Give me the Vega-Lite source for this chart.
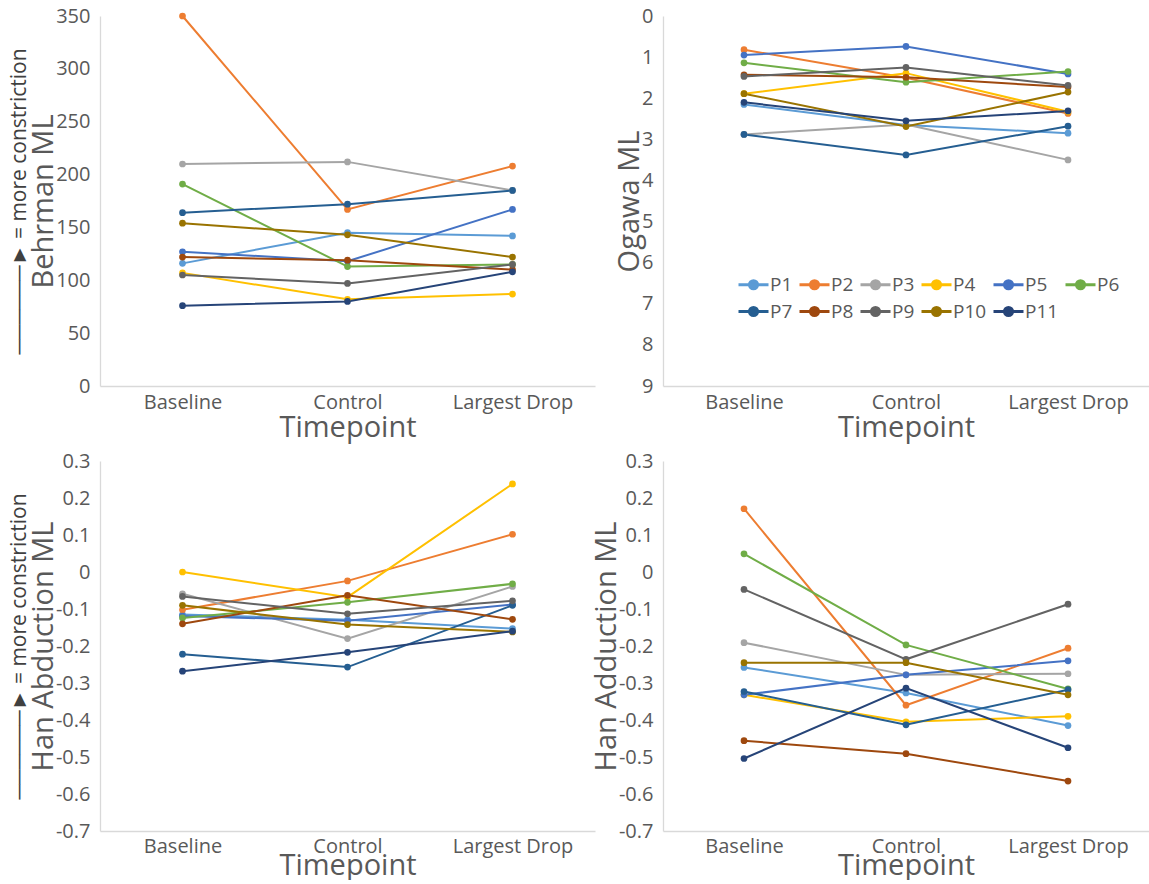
{
  "$schema": "https://vega.github.io/schema/vega-lite/v6.json",
  "background": "white",
  "padding": {"left": 8, "top": 6, "right": 0, "bottom": 0},
  "data": {"values": [
    {"m":"Behrman","p":"P1","t":"Baseline","v":116},{"m":"Behrman","p":"P1","t":"Control","v":145},{"m":"Behrman","p":"P1","t":"Largest Drop","v":142},
    {"m":"Behrman","p":"P2","t":"Baseline","v":350},{"m":"Behrman","p":"P2","t":"Control","v":167},{"m":"Behrman","p":"P2","t":"Largest Drop","v":208},
    {"m":"Behrman","p":"P3","t":"Baseline","v":210},{"m":"Behrman","p":"P3","t":"Control","v":212},{"m":"Behrman","p":"P3","t":"Largest Drop","v":185},
    {"m":"Behrman","p":"P4","t":"Baseline","v":107},{"m":"Behrman","p":"P4","t":"Control","v":82},{"m":"Behrman","p":"P4","t":"Largest Drop","v":87},
    {"m":"Behrman","p":"P5","t":"Baseline","v":127},{"m":"Behrman","p":"P5","t":"Control","v":118},{"m":"Behrman","p":"P5","t":"Largest Drop","v":167},
    {"m":"Behrman","p":"P6","t":"Baseline","v":191},{"m":"Behrman","p":"P6","t":"Control","v":113},{"m":"Behrman","p":"P6","t":"Largest Drop","v":115},
    {"m":"Behrman","p":"P7","t":"Baseline","v":164},{"m":"Behrman","p":"P7","t":"Control","v":172},{"m":"Behrman","p":"P7","t":"Largest Drop","v":185},
    {"m":"Behrman","p":"P8","t":"Baseline","v":122},{"m":"Behrman","p":"P8","t":"Control","v":119},{"m":"Behrman","p":"P8","t":"Largest Drop","v":110},
    {"m":"Behrman","p":"P9","t":"Baseline","v":105},{"m":"Behrman","p":"P9","t":"Control","v":97},{"m":"Behrman","p":"P9","t":"Largest Drop","v":115},
    {"m":"Behrman","p":"P10","t":"Baseline","v":154},{"m":"Behrman","p":"P10","t":"Control","v":143},{"m":"Behrman","p":"P10","t":"Largest Drop","v":122},
    {"m":"Behrman","p":"P11","t":"Baseline","v":76},{"m":"Behrman","p":"P11","t":"Control","v":80},{"m":"Behrman","p":"P11","t":"Largest Drop","v":108},

    {"m":"Ogawa","p":"P1","t":"Baseline","v":2.15},{"m":"Ogawa","p":"P1","t":"Control","v":2.65},{"m":"Ogawa","p":"P1","t":"Largest Drop","v":2.85},
    {"m":"Ogawa","p":"P2","t":"Baseline","v":0.82},{"m":"Ogawa","p":"P2","t":"Control","v":1.5},{"m":"Ogawa","p":"P2","t":"Largest Drop","v":2.37},
    {"m":"Ogawa","p":"P3","t":"Baseline","v":2.88},{"m":"Ogawa","p":"P3","t":"Control","v":2.64},{"m":"Ogawa","p":"P3","t":"Largest Drop","v":3.5},
    {"m":"Ogawa","p":"P4","t":"Baseline","v":1.89},{"m":"Ogawa","p":"P4","t":"Control","v":1.39},{"m":"Ogawa","p":"P4","t":"Largest Drop","v":2.33},
    {"m":"Ogawa","p":"P5","t":"Baseline","v":0.95},{"m":"Ogawa","p":"P5","t":"Control","v":0.74},{"m":"Ogawa","p":"P5","t":"Largest Drop","v":1.41},
    {"m":"Ogawa","p":"P6","t":"Baseline","v":1.14},{"m":"Ogawa","p":"P6","t":"Control","v":1.61},{"m":"Ogawa","p":"P6","t":"Largest Drop","v":1.35},
    {"m":"Ogawa","p":"P7","t":"Baseline","v":2.88},{"m":"Ogawa","p":"P7","t":"Control","v":3.38},{"m":"Ogawa","p":"P7","t":"Largest Drop","v":2.68},
    {"m":"Ogawa","p":"P8","t":"Baseline","v":1.43},{"m":"Ogawa","p":"P8","t":"Control","v":1.49},{"m":"Ogawa","p":"P8","t":"Largest Drop","v":1.73},
    {"m":"Ogawa","p":"P9","t":"Baseline","v":1.47},{"m":"Ogawa","p":"P9","t":"Control","v":1.25},{"m":"Ogawa","p":"P9","t":"Largest Drop","v":1.69},
    {"m":"Ogawa","p":"P10","t":"Baseline","v":1.89},{"m":"Ogawa","p":"P10","t":"Control","v":2.69},{"m":"Ogawa","p":"P10","t":"Largest Drop","v":1.85},
    {"m":"Ogawa","p":"P11","t":"Baseline","v":2.1},{"m":"Ogawa","p":"P11","t":"Control","v":2.55},{"m":"Ogawa","p":"P11","t":"Largest Drop","v":2.31},

    {"m":"Abd","p":"P1","t":"Baseline","v":-0.115},{"m":"Abd","p":"P1","t":"Control","v":-0.129},{"m":"Abd","p":"P1","t":"Largest Drop","v":-0.153},
    {"m":"Abd","p":"P2","t":"Baseline","v":-0.102},{"m":"Abd","p":"P2","t":"Control","v":-0.024},{"m":"Abd","p":"P2","t":"Largest Drop","v":0.102},
    {"m":"Abd","p":"P3","t":"Baseline","v":-0.059},{"m":"Abd","p":"P3","t":"Control","v":-0.18},{"m":"Abd","p":"P3","t":"Largest Drop","v":-0.039},
    {"m":"Abd","p":"P4","t":"Baseline","v":0.0},{"m":"Abd","p":"P4","t":"Control","v":-0.068},{"m":"Abd","p":"P4","t":"Largest Drop","v":0.238},
    {"m":"Abd","p":"P5","t":"Baseline","v":-0.119},{"m":"Abd","p":"P5","t":"Control","v":-0.132},{"m":"Abd","p":"P5","t":"Largest Drop","v":-0.088},
    {"m":"Abd","p":"P6","t":"Baseline","v":-0.124},{"m":"Abd","p":"P6","t":"Control","v":-0.082},{"m":"Abd","p":"P6","t":"Largest Drop","v":-0.032},
    {"m":"Abd","p":"P7","t":"Baseline","v":-0.222},{"m":"Abd","p":"P7","t":"Control","v":-0.257},{"m":"Abd","p":"P7","t":"Largest Drop","v":-0.09},
    {"m":"Abd","p":"P8","t":"Baseline","v":-0.14},{"m":"Abd","p":"P8","t":"Control","v":-0.063},{"m":"Abd","p":"P8","t":"Largest Drop","v":-0.128},
    {"m":"Abd","p":"P9","t":"Baseline","v":-0.066},{"m":"Abd","p":"P9","t":"Control","v":-0.113},{"m":"Abd","p":"P9","t":"Largest Drop","v":-0.078},
    {"m":"Abd","p":"P10","t":"Baseline","v":-0.09},{"m":"Abd","p":"P10","t":"Control","v":-0.142},{"m":"Abd","p":"P10","t":"Largest Drop","v":-0.162},
    {"m":"Abd","p":"P11","t":"Baseline","v":-0.268},{"m":"Abd","p":"P11","t":"Control","v":-0.217},{"m":"Abd","p":"P11","t":"Largest Drop","v":-0.16},

    {"m":"Add","p":"P1","t":"Baseline","v":-0.258},{"m":"Add","p":"P1","t":"Control","v":-0.327},{"m":"Add","p":"P1","t":"Largest Drop","v":-0.415},
    {"m":"Add","p":"P2","t":"Baseline","v":0.171},{"m":"Add","p":"P2","t":"Control","v":-0.36},{"m":"Add","p":"P2","t":"Largest Drop","v":-0.206},
    {"m":"Add","p":"P3","t":"Baseline","v":-0.191},{"m":"Add","p":"P3","t":"Control","v":-0.278},{"m":"Add","p":"P3","t":"Largest Drop","v":-0.275},
    {"m":"Add","p":"P4","t":"Baseline","v":-0.332},{"m":"Add","p":"P4","t":"Control","v":-0.405},{"m":"Add","p":"P4","t":"Largest Drop","v":-0.39},
    {"m":"Add","p":"P5","t":"Baseline","v":-0.332},{"m":"Add","p":"P5","t":"Control","v":-0.278},{"m":"Add","p":"P5","t":"Largest Drop","v":-0.24},
    {"m":"Add","p":"P6","t":"Baseline","v":0.049},{"m":"Add","p":"P6","t":"Control","v":-0.197},{"m":"Add","p":"P6","t":"Largest Drop","v":-0.316},
    {"m":"Add","p":"P7","t":"Baseline","v":-0.323},{"m":"Add","p":"P7","t":"Control","v":-0.413},{"m":"Add","p":"P7","t":"Largest Drop","v":-0.318},
    {"m":"Add","p":"P8","t":"Baseline","v":-0.456},{"m":"Add","p":"P8","t":"Control","v":-0.491},{"m":"Add","p":"P8","t":"Largest Drop","v":-0.565},
    {"m":"Add","p":"P9","t":"Baseline","v":-0.047},{"m":"Add","p":"P9","t":"Control","v":-0.236},{"m":"Add","p":"P9","t":"Largest Drop","v":-0.087},
    {"m":"Add","p":"P10","t":"Baseline","v":-0.245},{"m":"Add","p":"P10","t":"Control","v":-0.245},{"m":"Add","p":"P10","t":"Largest Drop","v":-0.332},
    {"m":"Add","p":"P11","t":"Baseline","v":-0.504},{"m":"Add","p":"P11","t":"Control","v":-0.314},{"m":"Add","p":"P11","t":"Largest Drop","v":-0.475}
  ]},
  "columns": 2,
  "bounds": "flush",
  "spacing": {"row": 75, "column": 68},
  "resolve": {"scale": {"color": "independent", "y": "independent", "x": "independent"}},
  "concat": [
    {
      "width": 495, "height": 370,
      "transform": [{"filter": "datum.m === 'Behrman'"}],
      "layer": [
        {
          "mark": {"type": "line", "strokeWidth": 2, "point": {"filled": true, "size": 45}},
          "encoding": {
            "x": {"field": "t", "type": "nominal", "sort": ["Baseline", "Control", "Largest Drop"], "scale": {"padding": 0.5}, "axis": {"title": "Timepoint", "labelAngle": 0, "titlePadding": 1}},
            "y": {"field": "v", "type": "quantitative", "scale": {"domain": [0, 350]}, "axis": {"title": "Behrman ML", "values": [0, 50, 100, 150, 200, 250, 300, 350]}},
            "color": {"field": "p", "type": "nominal", "scale": {"domain": ["P1","P2","P3","P4","P5","P6","P7","P8","P9","P10","P11"], "range": ["#5B9BD5","#ED7D31","#A5A5A5","#FFC000","#4472C4","#70AD47","#255E91","#9E480E","#636363","#997300","#264478"]}, "legend": null}
          }
        },
        {
          "mark": {"type": "point", "opacity": 0},
          "encoding": {
            "x": {"field": "t", "type": "nominal", "sort": ["Baseline", "Control", "Largest Drop"], "scale": {"padding": 0.5}},
            "y": {"field": "v", "type": "quantitative", "scale": {"domain": [0, 350]}, "axis": {"orient": "left", "title": "──────►  = more constriction", "titleColor": "#404040", "labels": false, "ticks": false, "domain": false, "titleFontSize": 21, "titlePadding": 71}}
          }
        }
      ],
      "resolve": {"axis": {"y": "independent"}}
    },
    {
      "width": 486, "height": 370,
      "transform": [{"filter": "datum.m === 'Ogawa'"}],
      "mark": {"type": "line", "strokeWidth": 2, "point": {"filled": true, "size": 45}},
      "encoding": {
        "x": {"field": "t", "type": "nominal", "sort": ["Baseline", "Control", "Largest Drop"], "scale": {"padding": 0.5}, "axis": {"title": "Timepoint", "labelAngle": 0, "titlePadding": 1}},
        "y": {"field": "v", "type": "quantitative", "scale": {"domain": [0, 9], "reverse": true}, "axis": {"title": "Ogawa ML", "values": [0,1,2,3,4,5,6,7,8,9]}},
        "color": {"field": "p", "type": "nominal", "scale": {"domain": ["P1","P2","P3","P4","P5","P6","P7","P8","P9","P10","P11"], "range": ["#5B9BD5","#ED7D31","#A5A5A5","#FFC000","#4472C4","#70AD47","#255E91","#9E480E","#636363","#997300","#264478"]},
          "legend": {"orient": "none", "legendX": 74, "legendY": 252, "direction": "horizontal", "columns": 6, "title": null, "gridAlign": "each",
            "symbolType": "M-1,0H1M0.27,0A0.27,0.27,0,1,1,-0.27,0A0.27,0.27,0,1,1,0.27,0", "symbolSize": 900, "symbolStrokeWidth": 3,
            "labelFontSize": 19, "labelColor": "#595959", "labelOffset": 0, "columnPadding": 0, "rowPadding": -12, "padding": 0,
            "encode": {"symbols": {"update": {"fill": {"signal": "{'P1':'#5B9BD5','P2':'#ED7D31','P3':'#A5A5A5','P4':'#FFC000','P5':'#4472C4','P6':'#70AD47','P7':'#255E91','P8':'#9E480E','P9':'#636363','P10':'#997300','P11':'#264478'}[datum.value]"}}}}}}
      }
    },
    {
      "width": 495, "height": 370,
      "transform": [{"filter": "datum.m === 'Abd'"}],
      "layer": [
        {
          "mark": {"type": "line", "strokeWidth": 2, "point": {"filled": true, "size": 45}},
          "encoding": {
            "x": {"field": "t", "type": "nominal", "sort": ["Baseline", "Control", "Largest Drop"], "scale": {"padding": 0.5}, "axis": {"title": "Timepoint", "labelAngle": 0, "labelPadding": 5, "titlePadding": -5}},
            "y": {"field": "v", "type": "quantitative", "scale": {"domain": [-0.7, 0.3]}, "axis": {"title": "Han Abduction ML", "values": [-0.7,-0.6,-0.5,-0.4,-0.3,-0.2,-0.1,0,0.1,0.2,0.3], "labelExpr": "replace(format(datum.value, '.1~f'), '\u2212', '-')"}},
            "color": {"field": "p", "type": "nominal", "scale": {"domain": ["P1","P2","P3","P4","P5","P6","P7","P8","P9","P10","P11"], "range": ["#5B9BD5","#ED7D31","#A5A5A5","#FFC000","#4472C4","#70AD47","#255E91","#9E480E","#636363","#997300","#264478"]}, "legend": null}
          }
        },
        {
          "mark": {"type": "point", "opacity": 0},
          "encoding": {
            "x": {"field": "t", "type": "nominal", "sort": ["Baseline", "Control", "Largest Drop"], "scale": {"padding": 0.5}},
            "y": {"field": "v", "type": "quantitative", "scale": {"domain": [-0.7, 0.3]}, "axis": {"orient": "left", "title": "──────►  = more constriction", "titleColor": "#404040", "labels": false, "ticks": false, "domain": false, "titleFontSize": 21, "titlePadding": 71}}
          }
        }
      ],
      "resolve": {"axis": {"y": "independent"}}
    },
    {
      "width": 486, "height": 370,
      "transform": [{"filter": "datum.m === 'Add'"}],
      "mark": {"type": "line", "strokeWidth": 2, "point": {"filled": true, "size": 45}},
      "encoding": {
        "x": {"field": "t", "type": "nominal", "sort": ["Baseline", "Control", "Largest Drop"], "scale": {"padding": 0.5}, "axis": {"title": "Timepoint", "labelAngle": 0, "labelPadding": 5, "titlePadding": -5}},
        "y": {"field": "v", "type": "quantitative", "scale": {"domain": [-0.7, 0.3]}, "axis": {"title": "Han Adduction ML", "values": [-0.7,-0.6,-0.5,-0.4,-0.3,-0.2,-0.1,0,0.1,0.2,0.3], "labelExpr": "replace(format(datum.value, '.1~f'), '\u2212', '-')"}},
        "color": {"field": "p", "type": "nominal", "scale": {"domain": ["P1","P2","P3","P4","P5","P6","P7","P8","P9","P10","P11"], "range": ["#5B9BD5","#ED7D31","#A5A5A5","#FFC000","#4472C4","#70AD47","#255E91","#9E480E","#636363","#997300","#264478"]}, "legend": null}
      }
    }
  ],
  "config": {
    "font": "Open Sans",
    "view": {"stroke": null},
    "axis": {"labelColor": "#595959", "titleColor": "#595959", "labelFontSize": 20, "titleFontSize": 30, "titleFontWeight": "normal", "domainColor": "#D9D9D9", "domainWidth": 1.3, "grid": false, "ticks": false, "labelFont": "Open Sans", "titleFont": "Open Sans"},
    "axisY": {"labelPadding": 10, "titlePadding": -3, "titleFontSize": 29},
    "axisX": {"labelPadding": 6, "titlePadding": -3, "titleFontSize": 29},
    "legend": {"labelFont": "Open Sans"}
  }
}
